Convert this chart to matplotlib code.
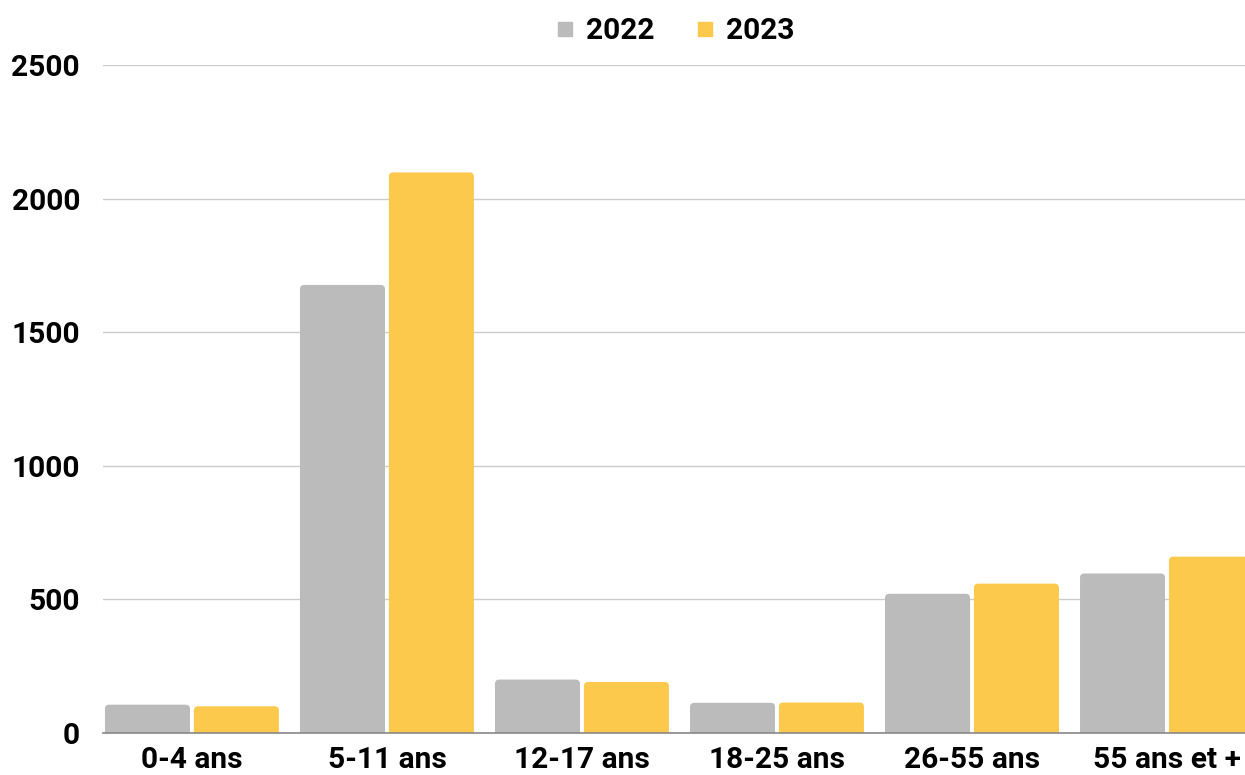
import numpy as np
import matplotlib
matplotlib.use('Agg')
from matplotlib import pyplot as plt
from matplotlib.patches import FancyBboxPatch
from matplotlib.lines import Line2D

categories = ['0-4 ans', '5-11 ans', '12-17 ans', '18-25 ans', '26-55 ans', '55 ans et +']
vals_2022 = [106, 1677, 200, 113, 521, 597]
vals_2023 = [100, 2098, 191, 114, 559, 660]
series_names = ['2022', '2023']
yticks = [0, 500, 1000, 1500, 2000, 2500]

grey = '#BBBBBB'
yellow = '#FDC94C'

plt.rcParams['font.family'] = ['Roboto', 'DejaVu Sans']
plt.rcParams['font.weight'] = 'bold'


def rounded_bars(ax, x, heights, width, color):
    # matplotlib bars have square corners; swap them for rounded boxes
    bars = ax.bar(x, heights, width, color=color)
    for b in bars:
        b.set_visible(False)
        r_x = 0.022
        r_y = 16
        box = FancyBboxPatch((b.get_x(), -r_y), b.get_width(), b.get_height() + r_y,
                             boxstyle='round,pad=0,rounding_size=%f' % r_x,
                             mutation_aspect=r_y / r_x,
                             facecolor=color, edgecolor='none', zorder=2)
        ax.add_patch(box)


def main():
    fig = plt.figure(figsize=(12.45, 7.75), dpi=100)
    ax = fig.add_axes([103 / 1245, 42 / 775, 1142 / 1245, 668 / 775])

    x = np.arange(len(categories))
    w = 0.436
    off = 0.228
    rounded_bars(ax, x - off, vals_2022, w, grey)
    rounded_bars(ax, x + off, vals_2023, w, yellow)

    ax.set_xlim(-0.456, 5.4)
    ax.set_ylim(0, 2500)
    ax.set_yticks(yticks)
    ax.set_yticklabels([str(v) for v in yticks])
    ax.set_xticks(x)
    ax.set_xticklabels(categories)
    ax.tick_params(axis='both', length=0, labelsize=21.5)
    ax.tick_params(axis='y', pad=16.5)
    ax.tick_params(axis='x', pad=9)

    ax.grid(axis='y', color='#CCCCCC', lw=1, zorder=0)
    ax.set_axisbelow(True)
    for s in ['top', 'right', 'left']:
        ax.spines[s].set_visible(False)
    ax.spines['bottom'].set_color('#888888')
    ax.spines['bottom'].set_linewidth(1.2)
    ax.spines['bottom'].set_zorder(3)

    handles = [Line2D([], [], marker='s', ls='none', color=grey, markersize=10),
               Line2D([], [], marker='s', ls='none', color=yellow, markersize=10)]
    fig.legend(handles, series_names, loc='center', bbox_to_anchor=(674 / 1245, 1 - 31 / 775),
               ncol=2, frameon=False, fontsize=21.5, handletextpad=0.3, columnspacing=1.3,
               handlelength=0.8)

    plt.savefig('out.png', dpi=100)


main()
